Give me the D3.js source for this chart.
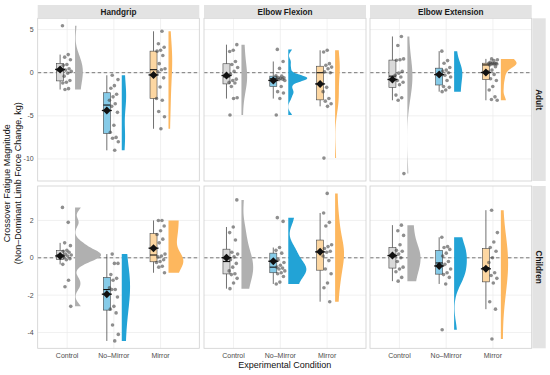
<!DOCTYPE html>
<html>
<head>
<meta charset="utf-8">
<script src="https://cdn.jsdelivr.net/npm/d3@7"></script>
<style>
  body { margin: 0; background: #fff; }
  text { font-family: "Liberation Sans", Arial, sans-serif; }
</style>
</head>
<body>
<svg width="550" height="375"></svg>
<script>
// facets and categories
const measures = ["Handgrip", "Elbow Flexion", "Elbow Extension"];
const groups = ["Adult", "Children"];
const conditions = ["Control", "No\u2013Mirror", "Mirror"];

// tick labels per row
const adultTicks = [-10, -5, 0, 5];
const childTicks = [-4, -2, 0, 2];

// crossover fatigue values (kg), [Control, No-Mirror, Mirror]
const adultHandgrip = [
  [5.45, 2.1, 1.8, 1.5, 0.95, 0.85, 0.45, 0.3, 0.15, -0.05, -0.4, -0.9, -1.1, -1.2, -1.85, -1.95],
  [-0.3, -0.8, -1.5, -1.8, -2.5, -2.8, -3.2, -3.6, -3.9, -4.6, -6.1, -6.9, -7.5, -7.6, -8.0, -9.0],
  [4.8, 3.35, 2.95, 2.6, 2.5, 2.0, 1.05, 0.45, 0.35, 0.1, -0.6, -1.65, -3.0, -3.2, -4.5, -5.1, -6.5]
];
const adultFlexion = [
  [3.25, 2.6, 2.45, 1.3, 0.95, 0.6, 0.15, -0.2, -0.75, -0.9, -1.1, -1.2, -1.6, -2.9, -3.0, -4.9],
  [2.7, 1.3, 0.5, -0.35, -0.4, -0.55, -0.6, -0.65, -0.7, -0.75, -0.8, -0.9, -1.6, -2.2, -2.35, -3.0, -4.9],
  [2.6, 2.4, 1.05, 0.85, 0.65, 0.45, 0.1, 0.0, -1.7, -2.2, -3.0, -3.3, -3.6, -3.9, -9.9]
];
const adultExtension = [
  [4.2, 3.15, 1.6, 1.5, 1.45, 0.15, -0.05, -0.3, -0.5, -0.9, -1.1, -1.4, -2.6, -2.9, -3.2, -11.7],
  [2.5, 1.4, 1.1, 0.6, 0.3, 0.2, 0.0, -0.3, -0.5, -0.9, -1.6, -1.7, -2.0, -2.2],
  [1.6, 1.5, 1.4, 1.2, 1.1, 1.1, 1.1, 1.05, 1.0, 1.0, 1.0, 0.9, 0.7, 0.3, 0.1, -0.2, -0.7, -0.9, -1.6, -2.0, -2.8, -3.1, -3.2]
];
const childHandgrip = [
  [2.7, 1.9, 0.8, 0.65, 0.4, 0.35, 0.3, 0.2, 0.15, 0.1, 0.0, -0.05, -0.1, -0.35, -1.2, -1.55, -2.6],
  [0.2, -0.3, -0.3, -0.9, -1.1, -1.2, -1.6, -1.7, -1.7, -2.1, -2.6, -2.75, -2.95, -3.6, -4.1, -4.45],
  [2.0, 2.0, 1.7, 1.45, 1.25, 1.0, 0.8, 0.2, 0.1, 0.05, -0.1, -0.2, -0.25, -0.45, -0.5, -0.8]
];
const childFlexion = [
  [3.1, 1.65, 1.35, 0.95, 0.3, 0.2, 0.05, -0.1, -0.3, -0.5, -0.7, -0.85, -0.9, -1.1, -1.35, -1.65],
  [2.15, 1.95, 0.55, 0.4, 0.25, -0.1, -0.25, -0.4, -0.5, -0.55, -0.6, -0.7, -0.8, -0.85, -1.0, -1.3, -1.4],
  [3.45, 2.4, 1.9, 1.7, 0.7, 0.6, 0.5, 0.35, 0.3, 0.1, -0.15, -0.6, -0.85, -1.35, -1.6, -2.35]
];
const childExtension = [
  [1.75, 1.45, 1.2, 0.7, 0.4, 0.35, 0.2, 0.1, 0.0, -0.2, -0.5, -0.6, -0.75, -1.05, -1.25],
  [1.1, 0.6, 0.55, 0.45, 0.25, 0.1, -0.2, -0.35, -0.6, -0.8, -0.9, -1.05, -1.4, -3.85],
  [2.55, 1.35, 0.85, 0.55, 0.35, 0.0, -0.25, -0.8, -0.95, -1.1, -1.35, -2.35, -2.75, -4.35]
];

const rowsData = [
  [adultHandgrip, adultFlexion, adultExtension],
  [childHandgrip, childFlexion, childExtension]
];
const rowTicks = [adultTicks, childTicks];

// colours
const violinColor = ["#b0b0b0", "#22a3d6", "#fdb75e"];
const boxColor = ["#d9d9d9", "#86cbe8", "#fdd7a2"];

// layout
const panelX = [[37.7, 199.3], [204, 366], [370, 531.7]];
const panelY = [[18.3, 181], [186, 348.3]];
const stripTop = 5;
const stripRight = [532.3, 545.7];

const svg = d3.select("svg");
svg.selectAll("*").remove();

// Sheather-Jones direct plug-in bandwidth (as bw.SJ(method = "dpi"))
function bwDpi(v) {
  const n = v.length;
  const s = v.slice().sort(d3.ascending);
  const scale = Math.min(d3.deviation(s), (d3.quantile(s, 0.75) - d3.quantile(s, 0.25)) / 1.349);
  const r2pi = Math.sqrt(2 * Math.PI);
  const phi4 = h => {
    let sum = 0;
    for (let i = 0; i < n; i++) for (let j = 0; j < n; j++) if (i !== j) {
      const d2 = ((s[i] - s[j]) / h) ** 2;
      sum += Math.exp(-d2 / 2) * (d2 * d2 - 6 * d2 + 3);
    }
    return (sum + 3 * n) / (n * (n - 1) * Math.pow(h, 5) * r2pi);
  };
  const phi6 = h => {
    let sum = 0;
    for (let i = 0; i < n; i++) for (let j = 0; j < n; j++) if (i !== j) {
      const d2 = ((s[i] - s[j]) / h) ** 2;
      sum += Math.exp(-d2 / 2) * (d2 * d2 * d2 - 15 * d2 * d2 + 45 * d2 - 15);
    }
    return (sum - 15 * n) / (n * (n - 1) * Math.pow(h, 7) * r2pi);
  };
  const b = 1.23 * scale * Math.pow(n, -1 / 9);
  const c1 = 1 / (2 * Math.sqrt(Math.PI) * n);
  const td = -phi6(b);
  const sd = phi4(Math.pow(2.394 / (n * td), 1 / 7));
  return Math.pow(c1 / sd, 1 / 5);
}
// bounded density: reflection at bounds just outside the data range, then trimmed
function kde(v) {
  const bw = bwDpi(v);
  const [mn, mx] = d3.extent(v);
  const lo = mn - 0.5 * bw, hi = mx + 0.5 * bw;
  const k = u => Math.exp(-0.5 * u * u) / Math.sqrt(2 * Math.PI);
  const pts = d3.range(0, 121).map(i => mn + (mx - mn) * i / 120);
  return pts.map(y => ({
    v: y,
    d: d3.sum(v, x => k((y - x) / bw) + k((y - (2 * lo - x)) / bw) + k((y - (2 * hi - x)) / bw))
      / (v.length * bw)
  }));
}

// y scales per row (5% expansion like ggplot)
const yScales = rowsData.map((row, r) => {
  const all = row.flat(2);
  const [mn, mx] = d3.extent(all);
  const pad = (mx - mn) * 0.05;
  return d3.scaleLinear().domain([mn - pad, mx + pad]).range([panelY[r][1], panelY[r][0]]);
});
const xScales = panelX.map(p => d3.scaleLinear().domain([0.37, 3.83]).range(p));

// densities, one width scale for all panels
const dens = rowsData.map(row => row.map(cell => cell.map(v => kde(v))));
const maxD = d3.max(dens.flat(3), p => p.d);
const wScale = d3.scaleLinear().domain([0, maxD]).range([0, 26]);

const jit = i => (((i * 0.618034) % 1) - 0.5) * 0.2;

rowsData.forEach((row, r) => {
  const y = yScales[r];
  row.forEach((cell, c) => {
    const x = xScales[c];
    const g = svg.append("g");
    const [x0, x1] = panelX[c];
    const [y0, y1] = panelY[r];

    g.append("rect").attr("x", x0).attr("y", y0).attr("width", x1 - x0).attr("height", y1 - y0)
      .attr("fill", "#fff");

    // grid
    g.selectAll(".hg").data(rowTicks[r]).enter().append("line")
      .attr("x1", x0).attr("x2", x1).attr("y1", d => y(d)).attr("y2", d => y(d))
      .attr("stroke", "#ebebeb").attr("stroke-width", 0.7);
    g.selectAll(".vg").data([1, 2, 3]).enter().append("line")
      .attr("x1", d => x(d)).attr("x2", d => x(d)).attr("y1", y0).attr("y2", y1)
      .attr("stroke", "#ebebeb").attr("stroke-width", 0.7);

    // zero reference
    g.append("line").attr("x1", x0).attr("x2", x1).attr("y1", y(0)).attr("y2", y(0))
      .attr("stroke", "#555").attr("stroke-width", 0.8).attr("stroke-dasharray", "3.5,2.5");

    cell.forEach((vals, k) => {
      const cx = k + 1;
      // half violin
      const vx = x(cx + 0.17);
      const area = d3.area()
        .y(d => y(d.v))
        .x0(vx)
        .x1(d => vx + wScale(d.d));
      g.append("path").datum(dens[r][c][k]).attr("d", area).attr("fill", violinColor[k]);

      // box
      const s = vals.slice().sort(d3.ascending);
      const q1 = d3.quantile(s, 0.25), med = d3.quantile(s, 0.5), q3 = d3.quantile(s, 0.75);
      const iqr = q3 - q1;
      const lo = d3.min(s.filter(v => v >= q1 - 1.5 * iqr));
      const hi = d3.max(s.filter(v => v <= q3 + 1.5 * iqr));
      const bc = x(cx - 0.15);
      const bw = x(cx + 0.075) - x(cx);
      g.append("line").attr("x1", bc).attr("x2", bc).attr("y1", y(hi)).attr("y2", y(lo))
        .attr("stroke", "#333").attr("stroke-width", 0.7);
      g.append("rect").attr("x", bc - bw).attr("width", 2 * bw)
        .attr("y", y(q3)).attr("height", y(q1) - y(q3))
        .attr("fill", boxColor[k]).attr("stroke", "#444").attr("stroke-width", 0.6);
      g.append("line").attr("x1", bc - bw).attr("x2", bc + bw).attr("y1", y(med)).attr("y2", y(med))
        .attr("stroke", "#111").attr("stroke-width", 1.1);

      // raw points
      g.selectAll(null).data(vals).enter().append("circle")
        .attr("cx", (d, i) => x(cx + jit(i + k * 7 + c * 3)))
        .attr("cy", d => y(d))
        .attr("r", 1.8)
        .attr("fill", "#444")
        .attr("fill-opacity", 0.6);

      // mean
      const m = d3.mean(vals);
      g.append("line").attr("x1", bc - 5).attr("x2", bc + 5).attr("y1", y(m)).attr("y2", y(m))
        .attr("stroke", "#111").attr("stroke-width", 1.3);
      g.append("path")
        .attr("d", `M${bc},${y(m) - 4}L${bc + 4},${y(m)}L${bc},${y(m) + 4}L${bc - 4},${y(m)}Z`)
        .attr("fill", "#111");
    });

    // border
    g.append("rect").attr("x", x0).attr("y", y0).attr("width", x1 - x0).attr("height", y1 - y0)
      .attr("fill", "none").attr("stroke", "#cfcfcf").attr("stroke-width", 0.8);

    // y tick labels on first column
    if (c === 0) {
      g.selectAll(".yt").data(rowTicks[r]).enter().append("text")
        .attr("x", x0 - 4).attr("y", d => y(d)).attr("dy", "0.35em")
        .attr("text-anchor", "end").attr("font-size", 7).attr("fill", "#4d4d4d")
        .text(d => d);
    }
    // x tick labels on bottom row
    if (r === 1) {
      g.selectAll(".xt").data(conditions).enter().append("text")
        .attr("x", (d, i) => x(i + 1)).attr("y", y1 + 10)
        .attr("text-anchor", "middle").attr("font-size", 7).attr("fill", "#4d4d4d")
        .text(d => d);
    }
  });
});

// top strips
measures.forEach((m, c) => {
  const [x0, x1] = panelX[c];
  svg.append("rect").attr("x", x0).attr("y", stripTop).attr("width", x1 - x0)
    .attr("height", panelY[0][0] - stripTop).attr("fill", "#e3e3e3");
  svg.append("text").attr("x", (x0 + x1) / 2).attr("y", (stripTop + panelY[0][0]) / 2)
    .attr("dy", "0.35em").attr("text-anchor", "middle").attr("font-size", 8.2)
    .attr("font-weight", "bold").attr("fill", "#1a1a1a").text(m);
});

// right strips
groups.forEach((gname, r) => {
  const [y0, y1] = panelY[r];
  svg.append("rect").attr("x", stripRight[0]).attr("y", y0).attr("width", stripRight[1] - stripRight[0])
    .attr("height", y1 - y0).attr("fill", "#e3e3e3");
  const cx = (stripRight[0] + stripRight[1]) / 2, cy = (y0 + y1) / 2;
  svg.append("text").attr("transform", `translate(${cx},${cy}) rotate(90)`)
    .attr("dy", "0.35em").attr("text-anchor", "middle").attr("font-size", 8.2)
    .attr("font-weight", "bold").attr("fill", "#1a1a1a").text(gname);
});

// axis titles
svg.append("text").attr("x", (panelX[0][0] + panelX[2][1]) / 2).attr("y", 368)
  .attr("text-anchor", "middle").attr("font-size", 9).attr("fill", "#111")
  .text("Experimental Condition");

const yMid = (panelY[0][0] + panelY[1][1]) / 2;
svg.append("text").attr("transform", `translate(9.5,${yMid}) rotate(-90)`)
  .attr("text-anchor", "middle").attr("font-size", 9).attr("fill", "#111")
  .text("Crossover Fatigue Magnitude");
svg.append("text").attr("transform", `translate(20.8,${yMid}) rotate(-90)`)
  .attr("text-anchor", "middle").attr("font-size", 9).attr("fill", "#111")
  .text("(Non\u2013Dominant Limb Force Change, kg)");
</script>
</body>
</html>
